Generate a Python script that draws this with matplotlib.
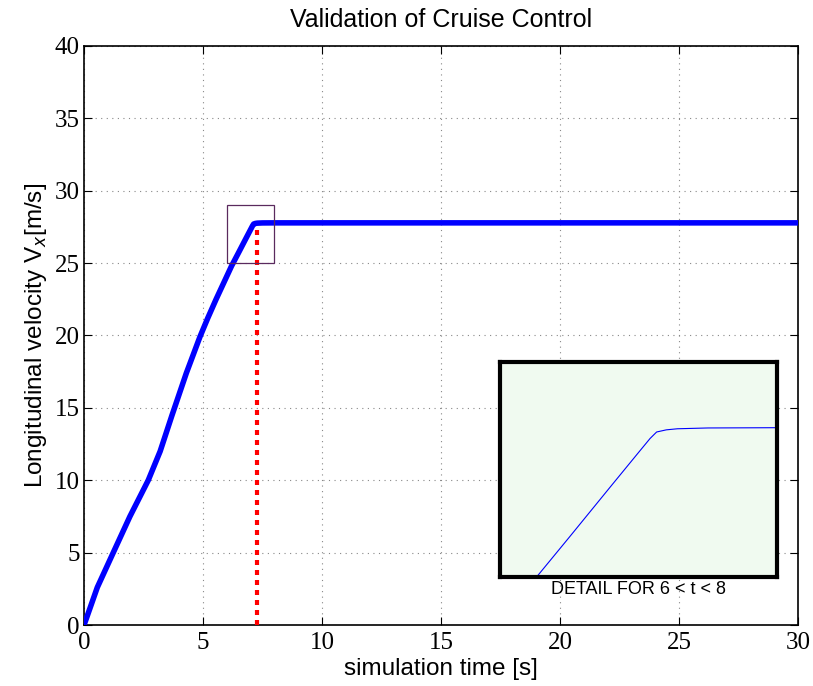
import matplotlib.pyplot as plt
from matplotlib.patches import Rectangle

# velocity trace
t = [0.0, 0.1, 0.56, 1.23, 1.93, 2.70, 3.2, 3.7, 4.3, 4.87, 5.2, 5.55, 6.2,
     6.277, 6.5, 6.8, 7.0, 7.083, 7.13, 7.2, 7.28, 7.5, 8.0, 30.0]
v = [0.0, 0.45, 2.6, 5.0, 7.5, 10.0, 12.0, 14.5, 17.4, 19.9, 21.2, 22.5, 24.8,
     25.04, 25.74, 26.69, 27.32, 27.58, 27.70, 27.74, 27.76, 27.775, 27.78, 27.78]

t_mark = 7.25
v_mark = 27.5
detail_x = [6, 8]
detail_y = [25, 29]

fig = plt.figure(figsize=(8.13, 6.86), dpi=100)
ax = fig.add_axes([0.1033, 0.0889, 0.8783, 0.8441])

ax.plot(t, v, color='#0000ff', linewidth=4, solid_capstyle='round',
        solid_joinstyle='round', zorder=3)
ax.plot([t_mark, t_mark], [0, v_mark], color='#ff0000', linestyle=(0, (1.2, 1.2)),
        linewidth=3, zorder=4)
ax.add_patch(Rectangle((detail_x[0], detail_y[0]), detail_x[1] - detail_x[0],
                       detail_y[1] - detail_y[0], fill=False, edgecolor='#5a2a5e',
                       linewidth=0.9, zorder=5))

ax.set_xlim(0, 30)
ax.set_ylim(0, 40)
ax.set_xticks(range(0, 31, 5))
ax.set_yticks(range(0, 41, 5))
ax.grid(True, linestyle=(0, (1, 4)), color='#888888', linewidth=0.8)
ax.tick_params(direction='in', length=6, top=True, right=True, labelsize=18)
ax.tick_params(axis='x', pad=5)
ax.tick_params(axis='y', pad=3)
for lab in ax.get_xticklabels() + ax.get_yticklabels():
    lab.set_family('Liberation Serif')
for s in ax.spines.values():
    s.set_linewidth(1.2)

ax.set_title('Validation of Cruise Control', fontsize=18, family='Liberation Sans', pad=14)
ax.set_xlabel('simulation time [s]', fontsize=17.5, family='Liberation Sans', labelpad=3)
ax.set_ylabel('Longitudinal velocity V$_x$[m/s]', fontsize=17.5, family='Liberation Sans', labelpad=4)

# detail inset
ins = fig.add_axes([0.615, 0.159, 0.341, 0.313], facecolor='#f0faf0')
ins.plot(t, v, color='#0000ff', linewidth=0.8)
ins.set_xlim(detail_x)
ins.set_ylim(detail_y)
ins.set_xticks([])
ins.set_yticks([])
for s in ins.spines.values():
    s.set_linewidth(3)
ins.set_xlabel('DETAIL FOR 6 < t < 8', fontsize=13, family='Liberation Sans', labelpad=3)

fig.savefig('out.png', dpi=100)
